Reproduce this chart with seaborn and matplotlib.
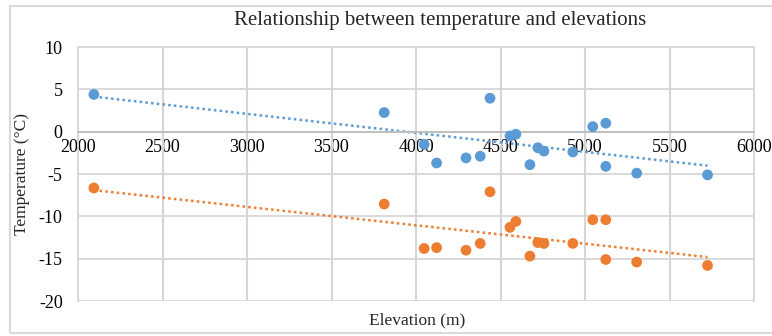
import numpy as np
import pandas as pd
import matplotlib
matplotlib.use("Agg")
import matplotlib.pyplot as plt
from matplotlib.patches import Rectangle
import seaborn as sns

elevation = [2094, 3812, 4048, 4122, 4296, 4380, 4438, 4556, 4591, 4674,
             4721, 4757, 4928, 5046, 5123, 5123, 5306, 5725]
temp_blue = [4.4, 2.26, -1.5, -3.7, -3.1, -2.9, 3.95, -0.5, -0.3, -3.9,
             -1.9, -2.3, -2.4, 0.6, 1.0, -4.1, -4.9, -5.1]
temp_orange = [-6.65, -8.55, -13.8, -13.7, -14.0, -13.2, -7.1, -11.3, -10.6, -14.7,
               -13.1, -13.2, -13.2, -10.4, -10.4, -15.1, -15.4, -15.8]
x_ticks = [2000, 2500, 3000, 3500, 4000, 4500, 5000, 5500, 6000]
y_ticks = [10, 5, 0, -5, -10, -15, -20]

title = "Relationship between temperature and elevations"
xlabel = "Elevation (m)"
ylabel = "Temperature (°C)"

BLUE = "#5B9BD5"
ORANGE = "#ED7D31"
GRID = "#D9D9D9"
VGRID = "#D6D6D6"

sns.set_theme(style="white")
plt.rcParams["font.family"] = ["Liberation Serif", "DejaVu Serif"]
plt.rcParams["axes.unicode_minus"] = False

df = pd.DataFrame({
    "Elevation": elevation * 2,
    "Temperature": temp_blue + temp_orange,
    "Series": ["blue"] * len(elevation) + ["orange"] * len(elevation),
})

fig = plt.figure(figsize=(7.72, 3.36), dpi=100)
ax = fig.add_axes([78 / 772, 1 - 301 / 336, 676 / 772, 254 / 336])

sns.scatterplot(data=df, x="Elevation", y="Temperature", hue="Series",
                palette={"blue": BLUE, "orange": ORANGE}, s=60,
                edgecolor="none", legend=False, ax=ax, zorder=3)
sns.regplot(x=np.array(elevation), y=np.array(temp_blue), scatter=False, ci=None,
            color=BLUE, ax=ax, truncate=True,
            line_kws=dict(linestyle=(0, (1, 1.3)), linewidth=1.8, zorder=2))
sns.regplot(x=np.array(elevation), y=np.array(temp_orange), scatter=False, ci=None,
            color=ORANGE, ax=ax, truncate=True,
            line_kws=dict(linestyle=(0, (1, 1.3)), linewidth=1.8, zorder=2))

ax.set_xlabel("")
ax.set_ylabel("")
for s in ["top", "right", "left"]:
    ax.spines[s].set_visible(True)
    ax.spines[s].set_color(GRID)
    ax.spines[s].set_linewidth(1.4)
ax.spines["bottom"].set_position(("data", 0))
ax.spines["bottom"].set_color("#BFBFBF")
ax.spines["bottom"].set_linewidth(1.4)

ax.set_xlim(2000, 6000)
ax.set_ylim(-20, 10)
ax.set_xticks(x_ticks)
ax.set_yticks(y_ticks)

# vertical grid lines at each x tick
ax.vlines(x_ticks, -20, 10, colors=VGRID, linewidth=1.5, zorder=1)
ax.yaxis.grid(True, which="major", color=GRID, linewidth=1.4, zorder=0.5)
ax.set_axisbelow(True)
ax.tick_params(axis="both", length=0, labelsize=13, colors="#000000")
ax.tick_params(axis="x", pad=5)
ax.tick_params(axis="y", pad=11)
ax.set_ylim(-20, 10)

fig.text(440 / 772, 1 - 20 / 336, title, ha="center", va="center", fontsize=15)
fig.text(417 / 772, 1 - 320 / 336, xlabel, ha="center", va="center", fontsize=12.5)
fig.text(22 / 772, 1 - 174 / 336, ylabel, ha="center", va="center", rotation=90,
         fontsize=12.5)

fig.patches.append(Rectangle((10 / 772, 3 / 336), 1.0, 1 - 9 / 336,
                             transform=fig.transFigure, fill=False,
                             edgecolor=GRID, linewidth=1.5))

fig.savefig("out.png", dpi=100)
